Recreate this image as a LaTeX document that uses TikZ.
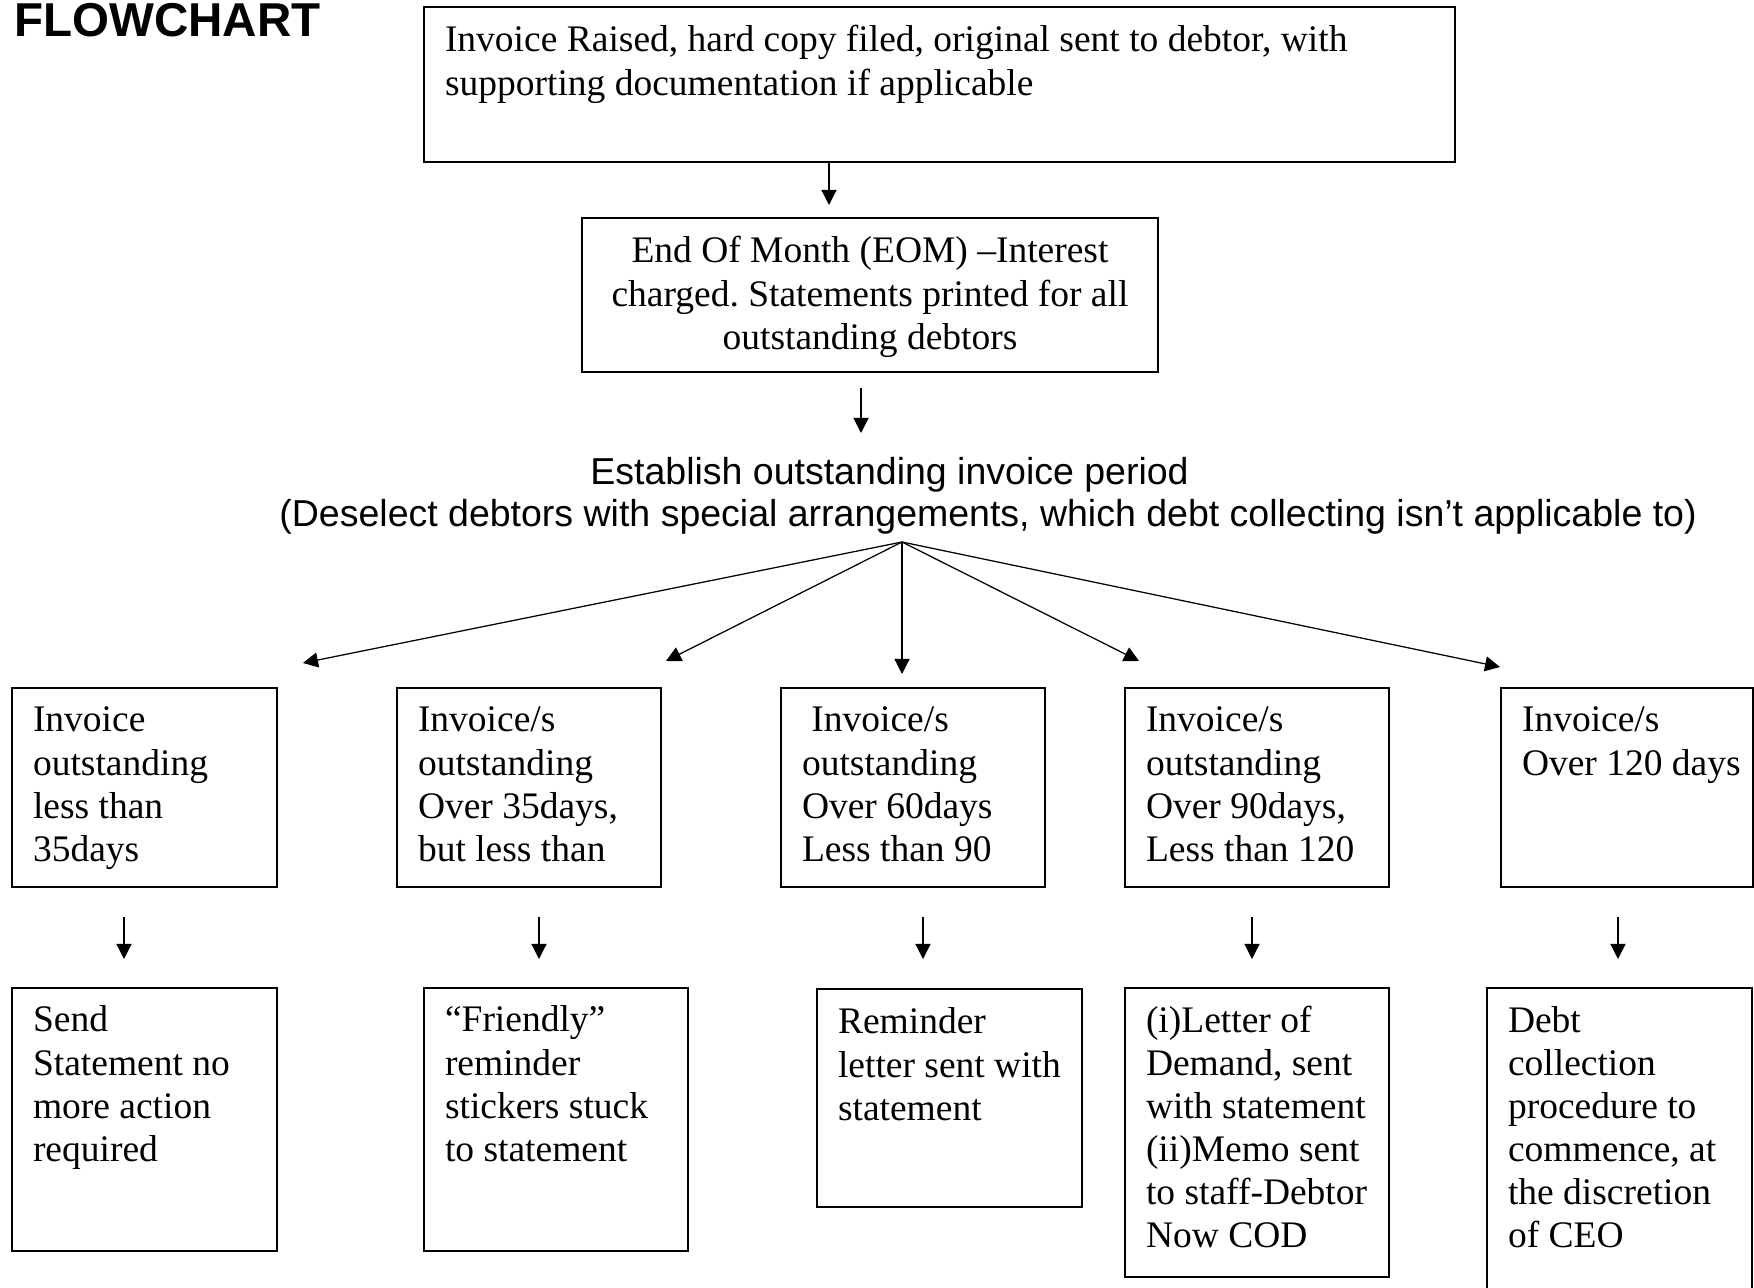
\documentclass[tikz,border=0pt]{standalone}
\usepackage{fontspec}
\setmainfont{Liberation Serif}
\setsansfont{Liberation Sans}
\usetikzlibrary{arrows.meta}
\frenchspacing
\newdimen\px \px=0.48pt
\hfuzz=300pt \hbadness=10000 \vbadness=10000 \vfuzz=300pt
% left-aligned box text: #1 width, #2 height, #3 first baseline (all px), #4 text
\newcommand{\bxl}[4]{\parbox[c][#2\px][t]{#1\px}{\frenchspacing\leftskip=21\px\rightskip=0pt plus 1fil\parfillskip=0pt plus 1fil\rule{0pt}{#3\px}#4}}
% centred box text
\newcommand{\bxc}[4]{\parbox[c][#2\px][t]{#1\px}{\frenchspacing\centering\rule{0pt}{#3\px}#4}}
\tikzset{
  box/.style={draw, line width=0.85pt, inner sep=0pt, outer sep=0pt, anchor=north west,
    font=\fontsize{18pt}{20.7pt}\selectfont},
  arr/.style={-{Triangle[length=7.2pt,width=7.2pt]}, line width=0.6pt},
  sanstxt/.style={font=\sffamily\fontsize{18pt}{20.7pt}\selectfont, inner sep=0pt, anchor=base west},
}
\begin{document}
\begin{tikzpicture}[x=0.48pt,y=-0.48pt]
\useasboundingbox (0,0) rectangle (1754,1288);

\node[anchor=base west, inner sep=0pt, font=\sffamily\bfseries\fontsize{22.8pt}{27pt}\selectfont] (title) at (14,37) {FLOWCHART};

% top boxes
\node[box] (top) at (424,7) {\bxl{1031}{155}{45}{Invoice Raised, hard copy filed, original sent to debtor, with\\supporting documentation if applicable}};
\node[box] (eom) at (582,218) {\bxc{576}{154}{45}{End Of Month (EOM) –Interest\\charged. Statements printed for all\\outstanding debtors}};

\node[sanstxt] (est1) at (590,485) {Establish outstanding invoice period};
\node[sanstxt] (est2) at (279,527) {(Deselect debtors with special arrangements, which debt collecting isn’t applicable to)};

% row 1
\node[box] (b1) at (12,688)   {\bxl{265}{199}{44}{Invoice\\outstanding\\less than\\35days}};
\node[box] (b2) at (397,688)  {\bxl{264}{199}{44}{Invoice/s\\outstanding\\Over 35days,\\but less than}};
\node[box] (b3) at (781,688)  {\bxl{264}{199}{44}{\ Invoice/s\\outstanding\\Over 60days\\Less than 90}};
\node[box] (b4) at (1125,688) {\bxl{264}{199}{44}{Invoice/s\\outstanding\\Over 90days,\\Less than 120}};
\node[box] (b5) at (1501,688) {\bxl{252}{199}{44}{Invoice/s\\Over 120 days}};

% row 2
\node[box] (c1) at (12,988)   {\bxl{265}{263}{44}{Send\\Statement no\\more action\\required}};
\node[box] (c2) at (424,988)  {\bxl{264}{263}{44}{“Friendly”\\reminder\\stickers stuck\\to statement}};
\node[box] (c3) at (817,989)  {\bxl{265}{218}{45}{Reminder\\letter sent with\\statement}};
\node[box] (c4) at (1125,988) {\bxl{264}{289}{44}{(i)Letter of\\Demand, sent\\with statement\\(ii)Memo sent\\to staff-Debtor\\Now COD}};
\node[box] (c5) at (1487,988) {\bxl{265}{312}{44}{Debt\\collection\\procedure to\\commence, at\\the discretion\\of CEO}};

% connector coordinates
\coordinate (a1e) at (829,205);
\coordinate (a2s) at (861,388);
\coordinate (a2e) at (861,433);
\coordinate (fan) at (902,542);
\coordinate (t1) at (303,663);
\coordinate (t2) at (666,661);
\coordinate (t3) at (902,674);
\coordinate (t4) at (1139,661);
\coordinate (t5) at (1500,667);
\foreach \i/\xx in {1/124,2/539,3/923,4/1252,5/1618}{
  \coordinate (s\i) at (\xx,917);
  \coordinate (e\i) at (\xx,959);
}

\draw[arr] (top.south -| a1e) -- (a1e);
\draw[arr] (a2s) -- (a2e);
\foreach \i in {1,...,5}{\draw[arr] (fan) -- (t\i);}
\foreach \i in {1,...,5}{\draw[arr] (s\i) -- (e\i);}
\end{tikzpicture}
\end{document}
